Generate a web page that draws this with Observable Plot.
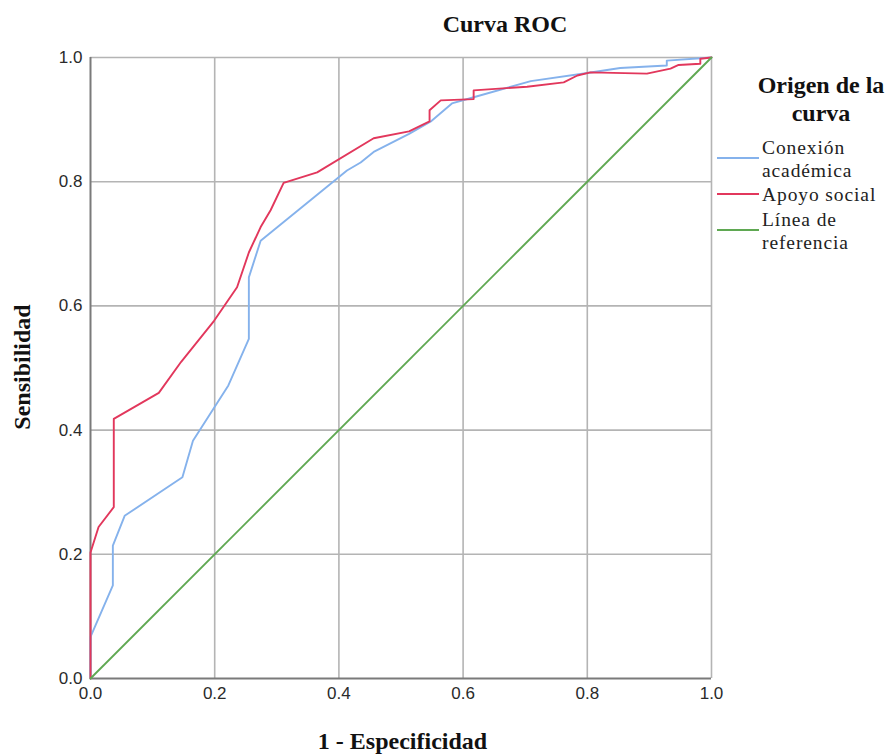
<!DOCTYPE html>
<html>
<head>
<meta charset="utf-8">
<script src="https://cdn.jsdelivr.net/npm/d3@7"></script>
<script src="https://cdn.jsdelivr.net/npm/@observablehq/plot@0.6"></script>
<style>
  body { margin: 0; background: #fff; }
  #wrap { position: relative; width: 891px; height: 756px; overflow: hidden; }
  #wrap svg { position: absolute; left: 0; top: 0; }
  .bold { font-family: "Liberation Serif", "Times New Roman", serif; font-weight: bold; color: #111; position: absolute; white-space: nowrap; }
  #title { font-size: 24px; left: 0; width: 1010px; text-align: center; top: 11px; }
  #xlabel { font-size: 24px; left: 0; width: 805px; text-align: center; top: 728px; }
  #ylabel { font-size: 24px; left: 22px; top: 367px; transform: translate(-50%, -50%) rotate(-90deg); }
  #legtitle { font-size: 24px; left: 751px; width: 140px; text-align: center; top: 71px; line-height: 28px; }
  .item { position: absolute; left: 717px; font-family: "Liberation Serif", "Times New Roman", serif; font-size: 19.5px; color: #222; letter-spacing: 0.9px; line-height: 23px; }
  .sw { position: absolute; left: 0; width: 42px; height: 0; border-top: 2.5px solid; }
  .lab { position: absolute; left: 45px; white-space: nowrap; }
</style>
</head>
<body>
<div id="wrap">
  <div id="title" class="bold">Curva ROC</div>
  <div id="xlabel" class="bold">1 - Especificidad</div>
  <div id="ylabel" class="bold">Sensibilidad</div>
  <div id="legtitle" class="bold">Origen de la<br>curva</div>
  <div id="legend"></div>
</div>
<script>
// ---- data ----
const seriesNames = ["Conexión académica", "Apoyo social", "Línea de referencia"];
const legendLines = [["Conexión", "académica"], ["Apoyo social"], ["Línea de", "referencia"]];
const seriesColors = ["#85b2ec", "#e2375c", "#5fa852"];

const conexionX = [0, 0, 0.036, 0.036, 0.055, 0.148, 0.165, 0.222, 0.255, 0.255, 0.274, 0.413, 0.435, 0.456, 0.513, 0.548, 0.582, 0.617, 0.709, 0.800, 0.853, 0.928, 0.928, 1.0];
const conexionY = [0, 0.067, 0.150, 0.214, 0.262, 0.324, 0.383, 0.472, 0.547, 0.646, 0.705, 0.818, 0.831, 0.848, 0.877, 0.897, 0.926, 0.936, 0.962, 0.975, 0.983, 0.987, 0.995, 1.0];

const apoyoX = [0, 0, 0.013, 0.0375, 0.0375, 0.110, 0.146, 0.199, 0.236, 0.255, 0.274, 0.290, 0.311, 0.365, 0.456, 0.513, 0.546, 0.546, 0.564, 0.617, 0.617, 0.703, 0.762, 0.784, 0.805, 0.896, 0.934, 0.947, 0.982, 0.982, 1.0];
const apoyoY = [0, 0.203, 0.244, 0.276, 0.418, 0.460, 0.510, 0.576, 0.630, 0.686, 0.727, 0.754, 0.798, 0.815, 0.870, 0.881, 0.897, 0.915, 0.931, 0.933, 0.947, 0.953, 0.960, 0.971, 0.976, 0.974, 0.982, 0.988, 0.990, 0.998, 1.0];

const refX = [0, 1];
const refY = [0, 1];

const tickValues = [0, 0.2, 0.4, 0.6, 0.8, 1.0];
const gridValues = [0.2, 0.4, 0.6, 0.8, 1.0];

// ---- build ----
const toRows = (xs, ys, s) => xs.map((x, i) => ({x, y: ys[i], s}));
const conexion = toRows(conexionX, conexionY, seriesNames[0]);
const apoyo = toRows(apoyoX, apoyoY, seriesNames[1]);
const ref = toRows(refX, refY, seriesNames[2]);

const chart = Plot.plot({
  width: 891,
  height: 756,
  marginLeft: 90,
  marginRight: 180,
  marginTop: 57,
  marginBottom: 78,
  style: {fontFamily: "'Liberation Sans', Arial, sans-serif", fontSize: "17px", color: "#2a2a2a", background: "transparent"},
  x: {domain: [0, 1]},
  y: {domain: [0, 1]},
  marks: [
    Plot.gridX(gridValues, {stroke: "#b4b4b4", strokeOpacity: 1, strokeWidth: 1.6}),
    Plot.gridY(gridValues, {stroke: "#b4b4b4", strokeOpacity: 1, strokeWidth: 1.6}),
    Plot.axisX(tickValues, {tickSize: 0, tickPadding: 8, tickFormat: d3.format(".1f"), label: null}),
    Plot.axisY(tickValues, {tickSize: 0, tickPadding: 8, tickFormat: d3.format(".1f"), label: null}),
    Plot.ruleX([0], {stroke: "#7a7a7a", strokeWidth: 2}),
    Plot.ruleY([0], {stroke: "#7a7a7a", strokeWidth: 2}),
    Plot.line(conexion, {x: "x", y: "y", stroke: seriesColors[0], strokeWidth: 1.9}),
    Plot.line(apoyo, {x: "x", y: "y", stroke: seriesColors[1], strokeWidth: 1.9}),
    Plot.line(ref, {x: "x", y: "y", stroke: seriesColors[2], strokeWidth: 1.9})
  ]
});
document.getElementById("wrap").prepend(chart);

// ---- legend ----
const legendTops = [136, 183, 208];
const leg = document.getElementById("legend");
legendLines.forEach((lines, i) => {
  const item = document.createElement("div");
  item.className = "item";
  item.style.top = legendTops[i] + "px";
  const sw = document.createElement("div");
  sw.className = "sw";
  sw.style.borderColor = seriesColors[i];
  sw.style.top = (lines.length === 2 ? 21 : 10) + "px";
  const lab = document.createElement("div");
  lab.className = "lab";
  lab.innerHTML = lines.join("<br>");
  item.appendChild(sw);
  item.appendChild(lab);
  leg.appendChild(item);
});
</script>
</body>
</html>
